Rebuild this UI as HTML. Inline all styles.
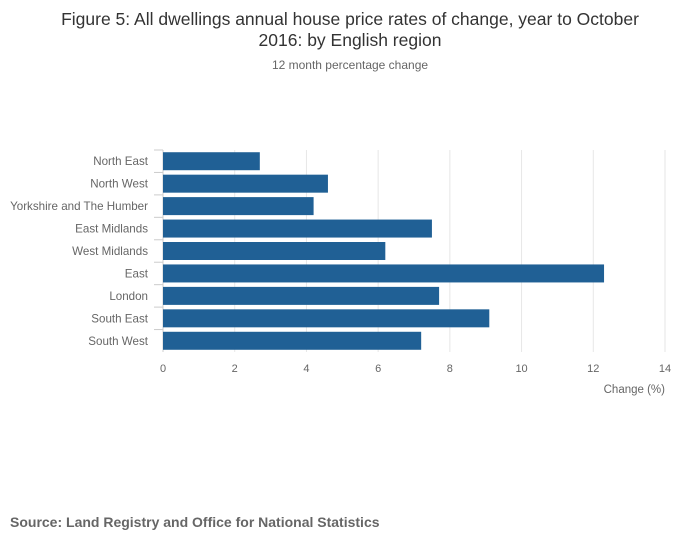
<!DOCTYPE html>
<html><head><meta charset="utf-8"><style>
body{margin:0;background:#fff;font-family:"Liberation Sans",sans-serif;}
#wrap{position:relative;width:700px;height:549px;overflow:hidden;}
</style></head><body>
<div id="wrap">
<svg id="chart" width="700" height="549" xmlns="http://www.w3.org/2000/svg">
<text x="350" y="25" text-anchor="middle" font-size="17.5" fill="#333">Figure 5: All dwellings annual house price rates of change, year to October</text>
<text x="350" y="46" text-anchor="middle" font-size="17.5" fill="#333">2016: by English region</text>
<text x="350" y="69" text-anchor="middle" font-size="12" fill="#666">12 month percentage change</text>
<g id="grid"></g><g id="bars"></g><g id="ylabels"></g><g id="xticks"></g>
<text x="665" y="393" text-anchor="end" font-size="11.5" fill="#666">Change (%)</text>
<text x="10" y="527" font-size="14" font-weight="bold" fill="#666">Source: Land Registry and Office for National Statistics</text>
</svg>
</div>
<script>
const categories=["North East","North West","Yorkshire and The Humber","East Midlands","West Midlands","East","London","South East","South West"];
const values=[2.7,4.6,4.2,7.5,6.2,12.3,7.7,9.1,7.2];
const xTicks=[0,2,4,6,8,10,12,14];
const NS="http://www.w3.org/2000/svg";
const x0=163,x1=665,xMax=14,yTop=150,yBottom=352;
const xs=v=>x0+(v/xMax)*(x1-x0);
const band=(yBottom-yTop)/categories.length;
const grid=document.getElementById('grid'),bars=document.getElementById('bars'),yl=document.getElementById('ylabels'),xt=document.getElementById('xticks');
function mk(t,a){const e=document.createElementNS(NS,t);for(const k in a)e.setAttribute(k,a[k]);return e;}
xTicks.forEach(t=>{
 const l=mk('line',{x1:xs(t),x2:xs(t),y1:yTop,y2:yBottom,stroke:t===0?'#ccc':'#e6e6e6','stroke-width':1});
 
 
 grid.appendChild(l);
 const tx=mk('text',{x:xs(t),y:372,'text-anchor':'middle','font-size':11,fill:'#666'});
 tx.textContent=t;
 
 
 xt.appendChild(tx);
});
categories.forEach((c,i)=>{
 const cy=yTop+band*(i+0.5);
 const r=mk('rect',{x:x0,y:cy-9,width:xs(values[i])-x0,height:18,fill:'#206095'});
 
 
 bars.appendChild(r);
 const t=mk('text',{x:148,y:cy+4,'text-anchor':'end','font-size':11.6,fill:'#666'});
 t.textContent=c;
 
 
 yl.appendChild(t);
 const tk=mk('line',{x1:x0-9,x2:x0,y1:yTop+band*i,y2:yTop+band*i,stroke:'#ccc'});
 
 
 yl.appendChild(tk);
});
</script>
</body></html>
